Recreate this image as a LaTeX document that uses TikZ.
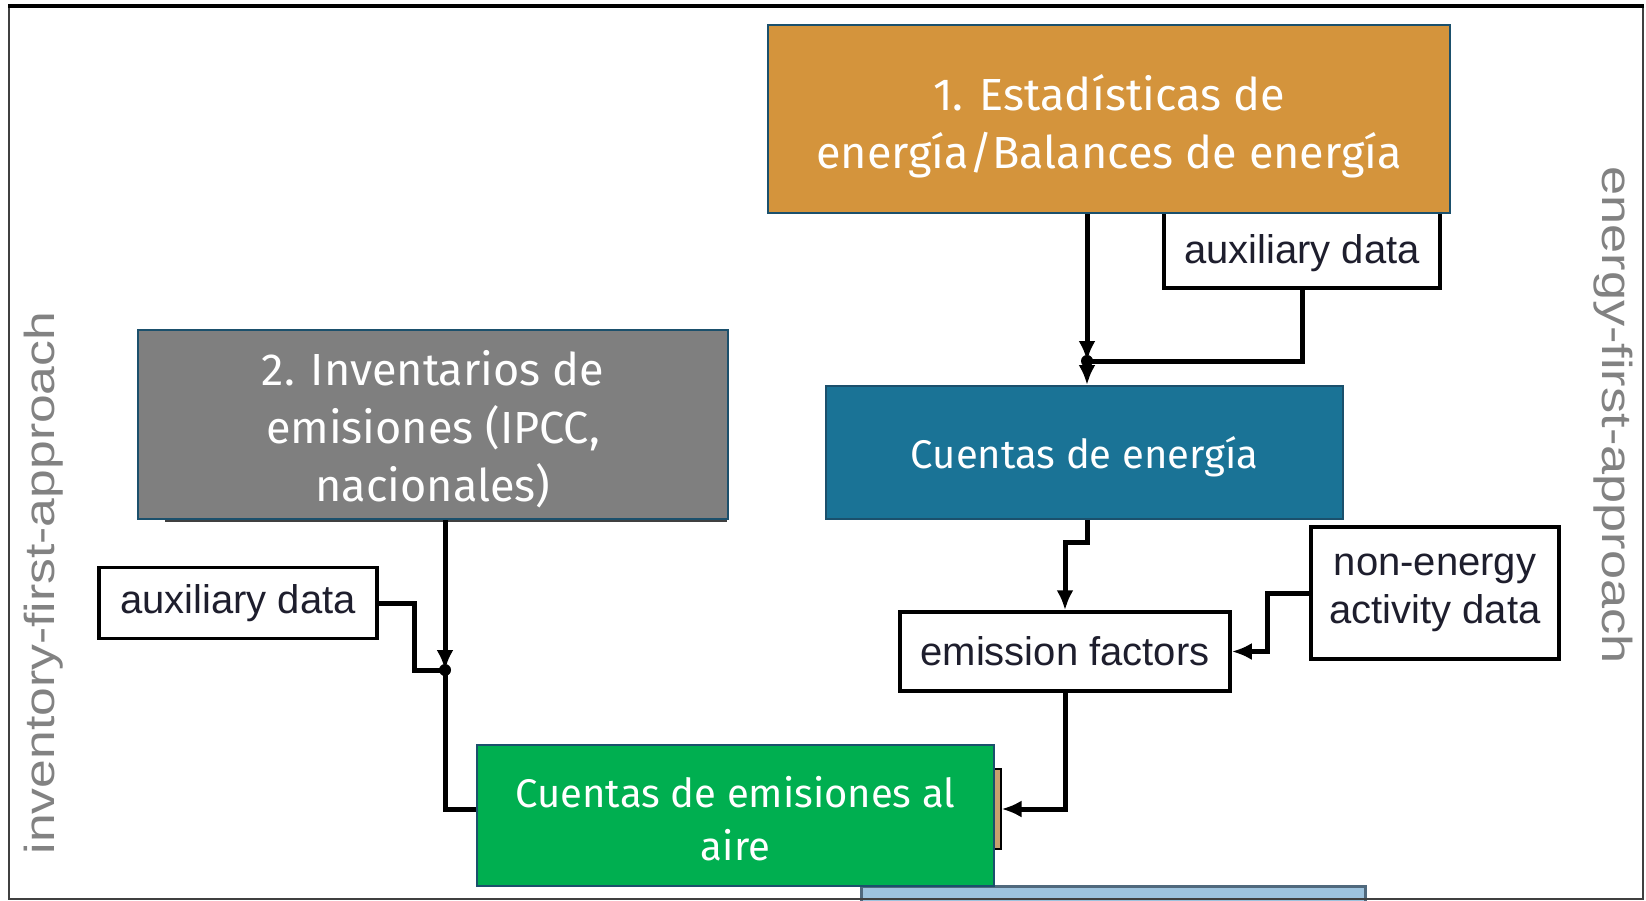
\documentclass[tikz,border=0pt]{standalone}
\usepackage{fontspec}
\usepackage{graphicx}
\usetikzlibrary{arrows.meta,calc}
\newfontfamily\boxfont{Fira Sans}
\newfontfamily\arialfont{Liberation Sans}
\definecolor{obrown}{RGB}{212,148,60}
\definecolor{ggray}{RGB}{127,127,127}
\definecolor{eblue}{RGB}{26,115,150}
\definecolor{egreen}{RGB}{0,175,80}
\definecolor{lblue}{RGB}{157,195,222}
\definecolor{lbborder}{RGB}{80,105,125}
\definecolor{tealborder}{RGB}{27,80,108}
\definecolor{auxtext}{RGB}{30,30,45}
\definecolor{rottext}{RGB}{130,130,130}
\definecolor{tan}{RGB}{200,160,110}
\tikzset{
  colbox/.style={draw=tealborder, line width=2pt, inner sep=0pt, align=center, text=white},
  bigtxt/.style={font=\boxfont\fontsize{45}{58}\selectfont},
  midtxt/.style={font=\boxfont\fontsize{40}{53}\selectfont},
  obox/.style={colbox, bigtxt, fill=obrown, minimum width=682pt, minimum height=188pt},
  gbox/.style={colbox, bigtxt, fill=ggray, minimum width=590pt, minimum height=189pt},
  bbox/.style={colbox, midtxt, fill=eblue, minimum width=517pt, minimum height=133pt},
  grbox/.style={colbox, midtxt, fill=egreen, minimum width=517pt, minimum height=141pt},
  auxbox/.style={draw=black, line width=3.5pt, fill=white, inner sep=0pt, align=center, text=auxtext, font=\arialfont\fontsize{40}{48}\selectfont},
  rottxt/.style={text=rottext, inner sep=0pt, font=\arialfont\fontsize{42}{48}\selectfont},
  conn/.style={draw=black, line width=5pt},
  tip/.style={-{Latex[length=20pt,width=17pt]}}
}
\begin{document}
\begin{tikzpicture}[x=1pt,y=-1pt]
\useasboundingbox (0,0) rectangle (1646,901);
\fill[white] (0,0) rectangle (1646,901);

% partially visible box at the bottom
\begin{scope}
\clip (0,0) rectangle (1646,901);
\node[draw=lbborder, line width=3pt, fill=lblue, minimum width=504pt, minimum height=40pt, inner sep=0pt] (nextbox) at (1113,906) {};
\end{scope}

% auxiliary / plain boxes
\node[auxbox, minimum width=276pt, minimum height=90pt] (auxtop) at (1302,243) {};
\node[auxbox, draw=none, fill=none] (auxtoptxt) at (1302,253) {auxiliary data};
\node[auxbox, minimum width=278pt, minimum height=71pt] (auxl) at (238,603) {auxiliary data};
\node[auxbox, minimum width=330pt, minimum height=79pt] (ef) at (1065,651.5) {emission factors};
\node[auxbox, minimum width=248pt, minimum height=132pt] (nonen) at (1435,593) {non-energy\\activity data};

% coloured boxes
\node[obox] (stat) at (1109,119.5) {\rule{0pt}{49pt}1. Estadísticas de\\energía/Balances de energía};
\draw[darkgray, line width=2.5pt] (165,521) -- (727,521);
\node[gbox] (inv) at (433,424.5) {\rule{0pt}{44pt}2. Inventarios de\\emisiones (IPCC,\\nacionales)};
\node[bbox] (ebal) at (1084.5,452.5) {\rule{0pt}{41pt}Cuentas de energía};
\node[draw=black, line width=2pt, fill=tan, minimum width=7pt, minimum height=80pt, inner sep=0pt] (oldbox) at (997,809) {};
\node[grbox] (air) at (735.5,815.5) {\rule{0pt}{37pt}Cuentas de emisiones al\\aire};

% rotated labels
\node[rottxt, rotate=90] (lefttxt) at (44,583) {\scalebox{1.23}[1]{inventory-first-approach}};
\node[rottxt, rotate=-90] (righttxt) at (1613,415) {\scalebox{1.245}[1]{energy-first-approach}};

% junctions
\coordinate (j1) at (1087,361);
\coordinate (j2) at (445,670);

% connectors (energy side)
\draw[conn, tip] (stat.south -| j1) -- (j1);
\draw[conn, tip] (j1) -- (j1 |- ebal.north);
\draw[conn] (auxtop.south) |- (j1);
\fill (j1) circle (6pt);
\draw[conn, tip] (ebal.south -| j1) -- ++(0,22) -| (ef.north);
\draw[conn, tip] (nonen.west) -- ++(-42,0) |- (ef.east);
\draw[conn, tip] (ef.south) |- (oldbox.east);

% connectors (inventory side)
\draw[conn, tip] (inv.south -| j2) -- (j2);
\draw[conn] (j2) -- (j2 |- oldbox.east) -- (air.west |- oldbox.east);
\draw[conn] (auxl.east) -- ++(36,0) |- (j2);
\fill (j2) circle (6pt);

% frame
\draw[line width=2.5pt, draw=black!75] (9,6) rectangle (1643,899);
\draw[line width=4pt, draw=black] (8,6) -- (1644,6);
\end{tikzpicture}
\end{document}
